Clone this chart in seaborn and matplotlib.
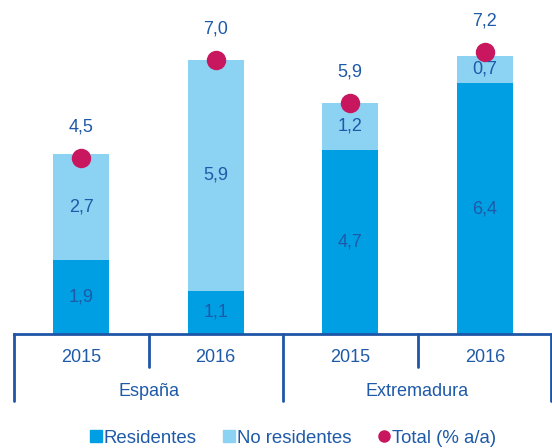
import matplotlib
matplotlib.use("Agg")
import matplotlib.pyplot as plt
import matplotlib.transforms as mtransforms
from matplotlib.lines import Line2D
import seaborn as sns
import numpy as np

# ---- data ----
groups = ["España", "Extremadura"]
years = ["2015", "2016", "2015", "2016"]
bar_ids = ["España 2015", "España 2016", "Extremadura 2015", "Extremadura 2016"]
residentes = [1.9, 1.1, 4.7, 6.4]
no_residentes = [2.7, 5.9, 1.2, 0.7]
total = [4.5, 7.0, 5.9, 7.2]
legend_labels = ["Residentes", "No residentes", "Total (% a/a)"]

c_res = "#009FE3"
c_nores = "#8CD3F3"
c_tot = "#C8175E"
c_text = "#1E5AA8"
c_line = "#1F55A6"

sns.set_theme(style="white")
plt.rcParams["font.family"] = ["Liberation Sans", "DejaVu Sans"]

fig = plt.figure(figsize=(5.52, 4.48), dpi=100)
ax = fig.add_axes([14 / 552, 114 / 448, 1 - 14 / 552, 334 / 448])

stack = [r + n for r, n in zip(residentes, no_residentes)]
sns.barplot(x=bar_ids, y=stack, color=c_nores, saturation=1, width=0.415,
            ax=ax, order=bar_ids, edgecolor="none")
sns.barplot(x=bar_ids, y=residentes, color=c_res, saturation=1, width=0.415,
            ax=ax, order=bar_ids, edgecolor="none")
sns.stripplot(x=bar_ids, y=total, order=bar_ids, jitter=False, size=14,
              color=c_tot, linewidth=0, ax=ax, zorder=5)

fs = 13
for i in range(len(bar_ids)):
    ax.text(i, residentes[i] / 2, f"{residentes[i]:.1f}".replace(".", ","),
            ha="center", va="center", fontsize=fs, color=c_text, zorder=6)
    ax.text(i, residentes[i] + no_residentes[i] / 2,
            f"{no_residentes[i]:.1f}".replace(".", ","),
            ha="center", va="center", fontsize=fs, color=c_text, zorder=6)
    ax.annotate(f"{total[i]:.1f}".replace(".", ","), (i, total[i]),
                xytext=(0, 22), textcoords="offset points",
                ha="center", va="center", fontsize=fs, color=c_text)

ax.set_xlim(-0.5, 3.5)
ax.set_ylim(0, 334 / 39.2)
ax.set_xticks([])
ax.set_yticks([])
ax.set_xlabel("")
ax.set_ylabel("")
for s in ["top", "right", "left"]:
    ax.spines[s].set_visible(False)
ax.spines["bottom"].set_color(c_line)
ax.spines["bottom"].set_linewidth(2)

# custom category axis
tr = mtransforms.blended_transform_factory(ax.transData, fig.transFigure)
y0 = 114 / 448
y_short = 81 / 448
y_long = 47 / 448
for k, xb in enumerate(np.arange(-0.5, 3.6, 1.0)):
    yb = y_long if k % 2 == 0 else y_short
    if k == 4:
        xb = xb - 0.004
    fig.add_artist(Line2D([xb, xb], [y0, yb], transform=tr, color=c_line,
                          lw=2, clip_on=False))
for i, yr in enumerate(years):
    fig.text(i, 91 / 448, yr, transform=tr, ha="center", va="center",
             fontsize=fs, color=c_text)
for g, name in enumerate(groups):
    fig.text(2 * g + 0.5, 57 / 448, name, transform=tr, ha="center",
             va="center", fontsize=fs, color=c_text)

handles = [
    Line2D([], [], marker="s", color=c_res, linestyle="none", markersize=8),
    Line2D([], [], marker="s", color=c_nores, linestyle="none", markersize=8),
    Line2D([], [], marker="o", color=c_tot, linestyle="none", markersize=8),
]
leg = fig.legend(handles, legend_labels, loc="center",
                 bbox_to_anchor=(293 / 552, 10 / 448), ncol=3, frameon=False,
                 fontsize=13.4, handlelength=0.6, handletextpad=0.12,
                 columnspacing=1.45, borderaxespad=0, borderpad=0)
for t in leg.get_texts():
    t.set_color(c_text)

fig.savefig("out.png", dpi=100)
